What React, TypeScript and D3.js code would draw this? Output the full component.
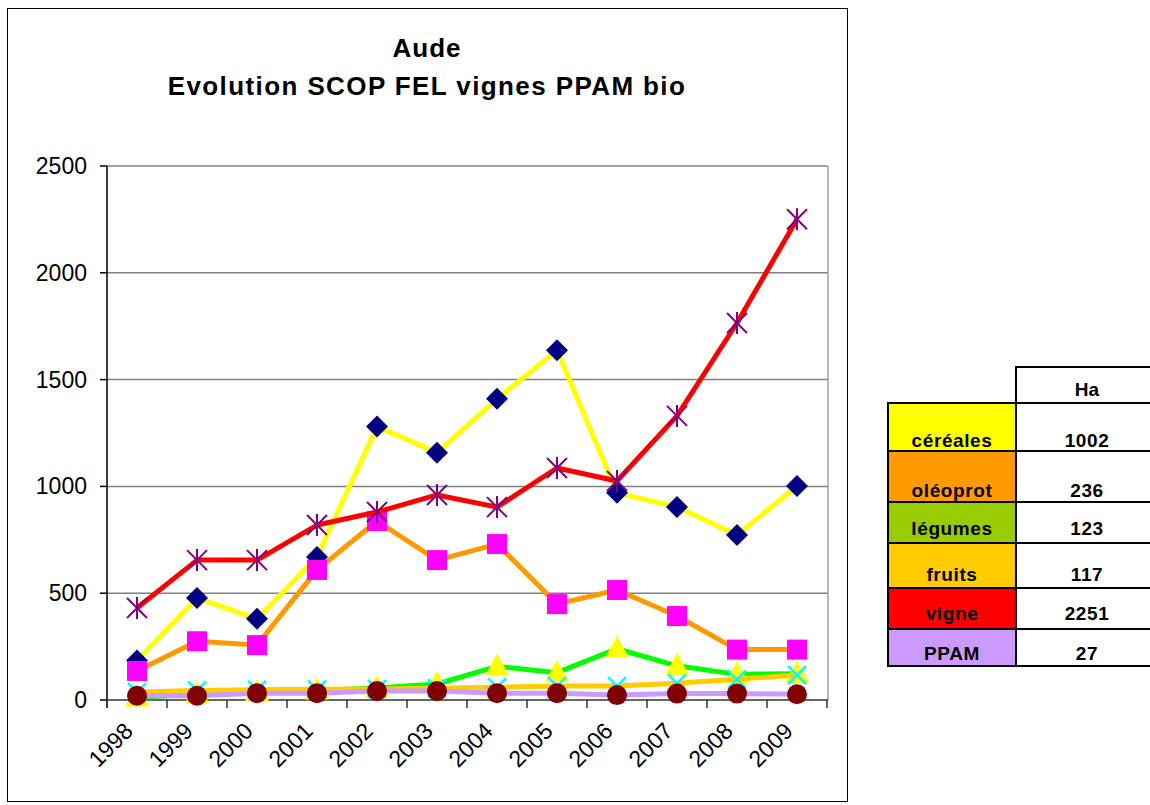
import React from 'react';
import * as d3 from 'd3';

const years = ['1998', '1999', '2000', '2001', '2002', '2003', '2004', '2005', '2006', '2007', '2008', '2009'];
const cereales = [185, 477, 380, 670, 1280, 1158, 1410, 1637, 970, 903, 773, 1002];
const oleoprot = [136, 275, 257, 609, 838, 655, 730, 449, 515, 393, 236, 236];
const legumes = [12, 28, 37, 45, 56, 75, 157, 128, 240, 160, 120, 123];
const fruits = [37, 45, 48, 50, 52, 55, 60, 65, 65, 78, 97, 117];
const vigne = [431, 655, 655, 819, 880, 960, 903, 1086, 1025, 1330, 1765, 2251];
const ppam = [20, 20, 32, 32, 42, 42, 32, 32, 23, 30, 30, 27];
const yTicks = [0, 500, 1000, 1500, 2000, 2500];

const tableRows = [
  { label: 'céréales', value: '1002', fill: '#FFFF00' },
  { label: 'oléoprot', value: '236', fill: '#FF9900' },
  { label: 'légumes', value: '123', fill: '#99CC00' },
  { label: 'fruits', value: '117', fill: '#FFCC00' },
  { label: 'vigne', value: '2251', fill: '#FF0000' },
  { label: 'PPAM', value: '27', fill: '#CC99FF' },
];

const series = [
  { name: 'céréales', values: cereales, line: '#FFFF00', marker: 'diamond', mcolor: '#000080' },
  { name: 'oléoprot', values: oleoprot, line: '#FF9900', marker: 'square', mcolor: '#FF00FF' },
  { name: 'légumes', values: legumes, line: '#00FF00', marker: 'triangle', mcolor: '#FFFF00' },
  { name: 'fruits', values: fruits, line: '#FFCC00', marker: 'x', mcolor: '#00FFFF' },
  { name: 'vigne', values: vigne, line: '#FF0000', marker: 'star', mcolor: '#800080' },
  { name: 'PPAM', values: ppam, line: '#CC99FF', marker: 'circle', mcolor: '#800000' },
];

const font = '"Liberation Sans", Arial, sans-serif';

function Marker({ type, color, x, y }: { type: string; color: string; x: number; y: number }) {
  if (type === 'diamond')
    return <path d={`M${x},${y - 11}L${x + 11},${y}L${x},${y + 11}L${x - 11},${y}Z`} fill={color} />;
  if (type === 'square') return <rect x={x - 10} y={y - 10} width={20} height={20} fill={color} />;
  if (type === 'triangle')
    return <path d={`M${x},${y - 13}L${x + 12},${y + 9}L${x - 12},${y + 9}Z`} fill={color} />;
  if (type === 'x')
    return (
      <path d={`M${x - 9},${y - 9}L${x + 9},${y + 9}M${x + 9},${y - 9}L${x - 9},${y + 9}`} stroke={color} strokeWidth={2.5} />
    );
  if (type === 'star')
    return (
      <path
        d={`M${x},${y - 11}L${x},${y + 11}M${x - 10},${y - 10}L${x + 10},${y + 10}M${x + 10},${y - 10}L${x - 10},${y + 10}`}
        stroke={color}
        strokeWidth={2}
      />
    );
  return <circle cx={x} cy={y} r={10} fill={color} />;
}

export default function App() {
  const x = d3.scaleBand().domain(years).range([107, 827]);
  const y = d3.scaleLinear().domain([0, 2500]).range([700, 166]);
  const cx = (yr: string) => (x(yr) as number) + x.bandwidth() / 2;

  const line = d3
    .line<number>()
    .x((d, i) => cx(years[i]))
    .y(d => y(d));

  const rowTops = [403, 451, 502, 543, 588, 629, 666];
  const baselines = [447, 497, 535, 581, 620, 660];

  return (
    <svg width={1150} height={805} style={{ position: 'absolute', left: 0, top: 0, background: '#fff' }} fontFamily={font}>
      <rect x={7.5} y={8.5} width={840} height={793} fill="#fff" stroke="#000" strokeWidth={1} />

      <text x={427} y={57} textAnchor="middle" fontSize={26} fontWeight="bold" letterSpacing={1}>
        Aude
      </text>
      <text x={427} y={95} textAnchor="middle" fontSize={26} fontWeight="bold" letterSpacing={1.4}>
        Evolution SCOP FEL vignes PPAM bio
      </text>

      {/* grid */}
      {yTicks.slice(1).map(t => (
        <line key={t} x1={107} x2={828} y1={y(t)} y2={y(t)} stroke="#808080" strokeWidth={1.5} />
      ))}
      <line x1={828} x2={828} y1={166} y2={700} stroke="#a0a0a0" strokeWidth={1.5} />

      {/* y axis */}
      <line x1={107} x2={107} y1={166} y2={708} stroke="#000" strokeWidth={1.5} />
      {yTicks.map(t => (
        <g key={t}>
          <line x1={100} x2={107} y1={y(t)} y2={y(t)} stroke="#000" strokeWidth={1.5} />
          <text x={87} y={y(t) + 8} textAnchor="end" fontSize={23}>
            {t}
          </text>
        </g>
      ))}

      {/* x axis */}
      <line x1={107} x2={828} y1={700} y2={700} stroke="#333" strokeWidth={1.5} />
      {years.concat(['end']).map((yr, i) => {
        const xx = i < years.length ? (x(yr) as number) : 827;
        return <line key={yr} x1={xx} x2={xx} y1={700} y2={708} stroke="#333" strokeWidth={1.5} />;
      })}
      {years.map(yr => (
        <text
          key={yr}
          transform={`translate(${cx(yr) - 14},${721}) rotate(-45)`}
          textAnchor="end"
          fontSize={23}
          dy="0.7em"
        >
          {yr}
        </text>
      ))}

      {/* series */}
      {series.map(s => (
        <g key={s.name}>
          <path d={line(s.values) || ''} fill="none" stroke={s.line} strokeWidth={5} strokeLinejoin="round" />
          {s.values.map((v, i) => (
            <Marker key={i} type={s.marker} color={s.mcolor} x={cx(years[i])} y={y(v)} />
          ))}
        </g>
      ))}

      {/* table */}
      <g fontWeight="bold" fontSize={19} textAnchor="middle">
        <rect x={1016} y={367} width={150} height={36} fill="#fff" stroke="#000" strokeWidth={2} />
        <text x={1087} y={396}>Ha</text>
        {tableRows.map((r, i) => (
          <g key={r.label}>
            <rect x={888} y={rowTops[i]} width={128} height={rowTops[i + 1] - rowTops[i]} fill={r.fill} stroke="#000" strokeWidth={2} />
            <rect x={1016} y={rowTops[i]} width={150} height={rowTops[i + 1] - rowTops[i]} fill="#fff" stroke="#000" strokeWidth={2} />
            <text x={952} y={baselines[i]} letterSpacing={0.6}>
              {r.label}
            </text>
            <text x={1087} y={baselines[i]} letterSpacing={0.6}>
              {r.value}
            </text>
          </g>
        ))}
      </g>
    </svg>
  );
}
